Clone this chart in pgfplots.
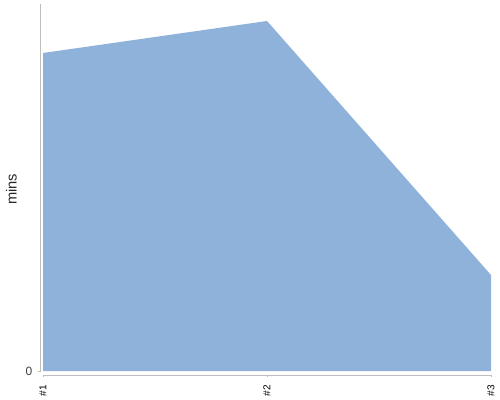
\documentclass[border=0pt]{standalone}
\usepackage{pgfplots}
\pgfplotsset{compat=1.18}
\usepackage{fontspec}
\setmainfont{Liberation Sans}
\definecolor{areafill}{RGB}{143,178,218}
\definecolor{axgray}{RGB}{190,190,190}
\begin{document}
\begin{tikzpicture}
\path[use as bounding box] (0,0) rectangle (375pt,300pt);
\begin{axis}[
  at={(32.25pt,21.75pt)}, anchor=origin,
  scale only axis, width=336pt, height=275.25pt,
  xmin=0, xmax=2, ymin=0, ymax=367,
  axis lines=none,
  clip=false,
  xtick=\empty, ytick=\empty,
]
\addplot[fill=areafill, draw=none] coordinates {(0,0) (0,318) (1,350) (2,96) (2,0)} -- cycle;
% axis lines
\draw[axgray, line width=0.75pt] ([xshift=-2.25pt]axis cs:0,367) -- ([xshift=-2.25pt]axis cs:0,0) -- ([xshift=-4pt]axis cs:0,0);
\draw[axgray, line width=0.75pt] ([yshift=-3pt]axis cs:0,0) -- ([yshift=-3pt]axis cs:2,0);
\draw[axgray, line width=0.75pt] ([yshift=-3pt]axis cs:0,0) -- ([yshift=-4.5pt]axis cs:0,0);
\draw[axgray, line width=0.75pt] ([yshift=-3pt]axis cs:1,0) -- ([yshift=-4.5pt]axis cs:1,0);
\draw[axgray, line width=0.75pt] ([yshift=-3pt]axis cs:2,0) -- ([yshift=-4.5pt]axis cs:2,0);
\node[anchor=east, font=\fontsize{9}{10}\selectfont, text=black!75] at ([xshift=-4.5pt]axis cs:0,0) {0};
\node[anchor=east, rotate=90, font=\fontsize{7.5}{8}\selectfont] at ([yshift=-7pt]axis cs:0,0) {\#1};
\node[anchor=east, rotate=90, font=\fontsize{7.5}{8}\selectfont] at ([yshift=-7pt]axis cs:1,0) {\#2};
\node[anchor=east, rotate=90, font=\fontsize{7.5}{8}\selectfont] at ([yshift=-7pt]axis cs:2,0) {\#3};
\end{axis}
\node[rotate=90, font=\fontsize{11}{12}\selectfont, text=black!85] at (8.6pt,158pt) {mins};
\end{tikzpicture}
\end{document}
